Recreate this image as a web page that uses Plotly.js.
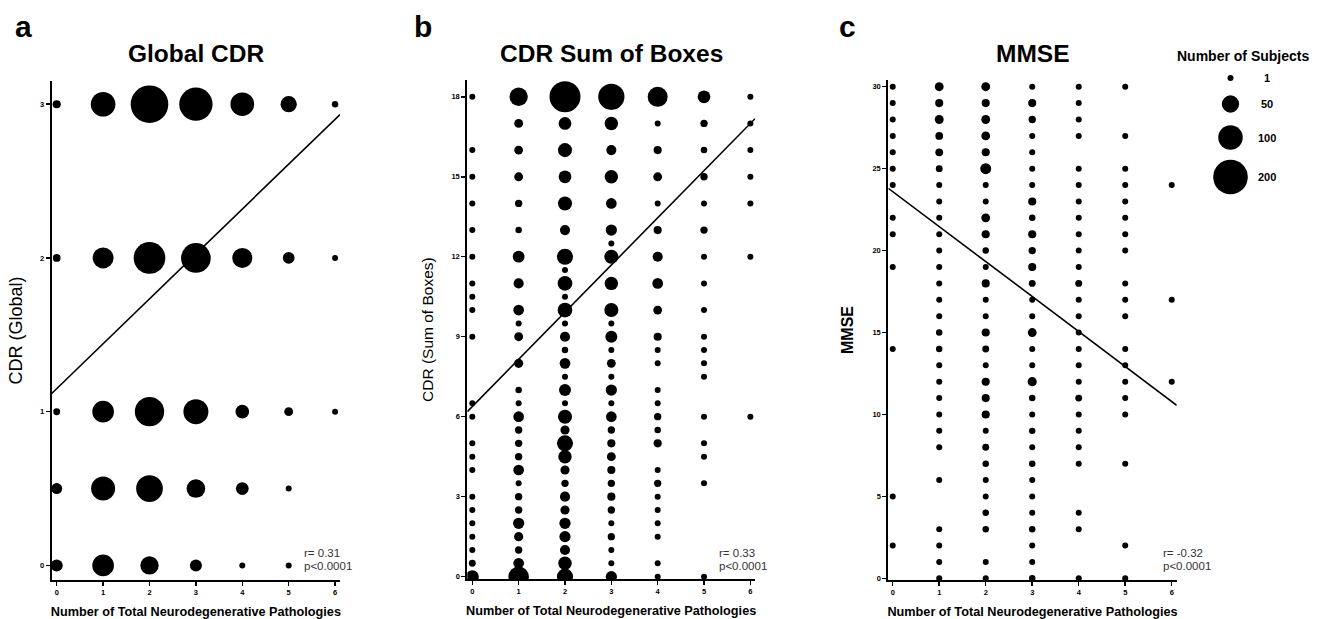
<!DOCTYPE html>
<html><head><meta charset="utf-8">
<script src="https://cdn.plot.ly/plotly-3.0.1.min.js"></script>
<style>html,body{margin:0;padding:0;background:#fff}</style>
</head><body><div id="chart" style="width:1320px;height:619px"></div>
<script>
// ---------------- DATA ----------------
const pathologies = [0, 1, 2, 3, 4, 5, 6];

// Panel a: Global CDR. Rows = CDR levels, columns = number of pathologies 0..6 (number of subjects)
const globalCdrLevels = [0, 0.5, 1, 2, 3];
const globalCdrCounts = [
  [24, 78, 56, 24, 3, 4, 0],
  [20, 96, 119, 58, 27, 5, 0],
  [8, 78, 143, 104, 31, 13, 2],
  [10, 73, 167, 147, 67, 23, 4],
  [11, 101, 236, 185, 93, 44, 7]
];

// Panel b: CDR Sum of Boxes. One array per pathology count: [score, subjects]
const sobCol0 = [[18,4],[16,4],[15,4],[14,2],[13,2],[12,4],[11,3],[10.5,2],[10,2],[9,3],[6.5,2],[6,2],[5,3],[4.5,4],[4,3],[3,3],[2.5,4],[2,2],[1.5,3],[1,3],[0.5,8],[0,28]];
const sobCol1 = [[18,56],[17,13],[16,13],[15,13],[14,9],[13,7],[12,23],[11,17],[10,19],[9.5,3],[9,13],[8,14],[7,7],[6.5,4],[6,19],[5.5,9],[5,9],[4.5,9],[4,19],[3.5,6],[3,9],[2.5,9],[2,21],[1.5,14],[1,9],[0.5,19],[0,70]];
const sobCol2 = [[18,160],[17,27],[16,33],[15,27],[14,33],[13,17],[12,43],[11.5,2],[11,36],[10.5,4],[10,36],[9.5,4],[9,17],[8.5,7],[8,19],[7.5,6],[7,24],[6.5,5],[6,33],[5.5,14],[5,43],[4.5,30],[4,14],[3.5,9],[3,17],[2.5,14],[2,21],[1.5,21],[1,17],[0.5,30],[0,43]];
const sobCol3 = [[18,115],[17,30],[16,17],[15,30],[14,19],[13,21],[12.5,2],[12,33],[11,30],[10,33],[9.5,2],[9,24],[8.5,6],[8,13],[7.5,6],[7,21],[6.5,4],[6,19],[5.5,9],[5,11],[4.5,13],[4,11],[3.5,9],[3,11],[2.5,9],[2,6],[1.5,9],[1,6],[0.5,5],[0,21]];
const sobCol4 = [[18,67],[17,4],[16,11],[15,13],[14,5],[13,11],[12,17],[11,19],[10,13],[9,11],[8.5,3],[8,3],[7,3],[6.5,2],[6,9],[5.5,7],[5,11],[4,2],[3.5,9],[3,3],[2.5,3],[2,2],[1.5,3],[0.5,6],[0,3]];
const sobCol5 = [[18,27],[17,9],[16,7],[15,9],[14,3],[13,9],[12,2],[11,5],[10,4],[9,2],[8.5,2],[8,6],[7.5,2],[6,3],[5,3],[4.5,3],[3.5,3],[0,3]];
const sobCol6 = [[18,4],[17,1],[16,1],[15,1],[14,1],[12,2],[6,2]];

// Panel c: MMSE. One array per pathology count: [score, subjects]
const mmseCol0 = [[30,4],[29,4],[28,4],[27,4],[26,4],[25,1],[24,2],[22,1],[21,1],[19,1],[14,1],[5,1],[2,1]];
const mmseCol1 = [[30,13],[29,11],[28,13],[27,10],[26,10],[25,8],[24,4],[23,4],[22,2],[21,3],[20,4],[19,4],[18,5],[17,1],[16,1],[15,7],[14,7],[13,4],[12,4],[11,5],[10,1],[9,6],[8,1],[6,3],[3,1],[2,4],[1,3],[0,2]];
const mmseCol2 = [[30,13],[29,11],[28,13],[27,13],[26,11],[25,20],[24,6],[23,6],[22,13],[21,11],[20,7],[19,6],[18,11],[17,6],[16,6],[15,11],[14,8],[13,6],[12,11],[11,11],[10,11],[9,6],[8,8],[7,7],[6,6],[5,4],[4,7],[3,7],[1,1],[0,2]];
const mmseCol3 = [[30,4],[29,11],[28,9],[27,4],[26,3],[25,4],[24,3],[23,11],[22,7],[21,11],[20,9],[19,11],[18,8],[17,6],[16,4],[15,13],[14,6],[13,6],[12,14],[11,7],[10,4],[9,7],[8,1],[7,7],[6,4],[5,5],[4,1],[3,7],[2,3],[1,4],[0,7]];
const mmseCol4 = [[30,4],[29,1],[28,3],[27,1],[25,3],[24,4],[23,5],[22,4],[21,4],[20,3],[19,4],[18,8],[17,5],[16,3],[15,1],[14,3],[13,4],[12,3],[11,8],[10,4],[9,4],[8,1],[7,5],[4,3],[3,3],[0,2]];
const mmseCol5 = [[30,3],[27,1],[25,1],[24,1],[23,1],[22,1],[21,1],[20,3],[18,1],[17,1],[16,5],[14,3],[13,3],[12,1],[11,3],[10,1],[7,1],[2,5],[0,1]];
const mmseCol6 = [[24,1],[17,1],[12,2]];

// Regression fits (a, b, c)
const fitIntercept = [1.15, 6.38, 23.6];
const fitSlope = [0.292, 1.77, -2.135];
const statR = ['r= 0.31', 'r= 0.33', 'r= -0.32'];
const statP = ['p<0.0001', 'p<0.0001', 'p<0.0001'];

// Text
const panelLetters = ['a', 'b', 'c'];
const panelTitles = ['Global CDR', 'CDR Sum of Boxes', 'MMSE'];
const yTitles = ['CDR (Global)', 'CDR (Sum of Boxes)', 'MMSE'];
const xTitle = 'Number of Total Neurodegenerative Pathologies';
const yTickVals = [[0, 1, 2, 3], [0, 3, 6, 9, 12, 15, 18], [0, 5, 10, 15, 20, 25, 30]];
const legendTitle = 'Number of Subjects';
const legendCounts = [1, 50, 100, 200];

// ---------------- LAYOUT CONFIG ----------------
const W = 1320, H = 619;
const FONT = 'Liberation Sans, Arial, Helvetica, sans-serif';
const SIZEREF = 1 / 3;
const panels = [
  { xpx: [51.7, 340], ypx: [81, 580], xr: [-0.108, 6.106], yr: [-0.095, 3.151], ytf: { size: 18, weight: 'normal' }, ystand: 13 },
  { xpx: [467.3, 755], ypx: [80, 579.3], xr: [-0.108, 6.10], yr: [-0.1, 18.63], ytf: { size: 15.5, weight: 'normal' }, ystand: 14 },
  { xpx: [888.3, 1176.7], ypx: [80, 580], xr: [-0.095, 6.107], yr: [-0.1, 30.41], ytf: { size: 16, weight: 'bold' }, ystand: 15 }
];
const legendPos = { x: 1230.5, ys: [78, 104, 137.5, 177], labelX: 1267, titleX: 1243, titleY: 56 };

const px2x = p => p / W;
const px2y = p => 1 - p / H;

// ---------------- BUILD ----------------
const bubbleColsB = [sobCol0, sobCol1, sobCol2, sobCol3, sobCol4, sobCol5, sobCol6];
const bubbleColsC = [mmseCol0, mmseCol1, mmseCol2, mmseCol3, mmseCol4, mmseCol5, mmseCol6];

function bubbleTrace(xs, ys, ns, k) {
  const s = k === 0 ? '' : String(k + 1);
  return {
    type: 'scatter', mode: 'markers', x: xs, y: ys, xaxis: 'x' + s, yaxis: 'y' + s,
    marker: { color: '#000', opacity: 1, size: ns, sizemode: 'area', sizeref: SIZEREF, sizemin: 3, line: { width: 0 } },
    hoverinfo: 'skip', showlegend: false
  };
}

const traces = [];
// panel a
{
  const xs = [], ys = [], ns = [];
  globalCdrLevels.forEach((lv, i) => {
    pathologies.forEach((p, j) => {
      const n = globalCdrCounts[i][j];
      if (n > 0) { xs.push(p); ys.push(lv); ns.push(n); }
    });
  });
  traces.push(bubbleTrace(xs, ys, ns, 0));
}
// panels b, c
[bubbleColsB, bubbleColsC].forEach((cols, idx) => {
  const xs = [], ys = [], ns = [];
  cols.forEach((col, j) => col.forEach(([v, n]) => { xs.push(pathologies[j]); ys.push(v); ns.push(n); }));
  traces.push(bubbleTrace(xs, ys, ns, idx + 1));
});
// regression lines
panels.forEach((pn, k) => {
  const s = k === 0 ? '' : String(k + 1);
  const xs = pn.xr.slice();
  traces.push({
    type: 'scatter', mode: 'lines', x: xs, y: xs.map(x => fitIntercept[k] + fitSlope[k] * x),
    xaxis: 'x' + s, yaxis: 'y' + s, line: { color: '#000', width: 1.6 },
    hoverinfo: 'skip', showlegend: false
  });
});
// size legend (drawn on a hidden pixel-space axis)
traces.push({
  type: 'scatter', mode: 'markers', x: legendCounts.map(() => legendPos.x), y: legendPos.ys,
  xaxis: 'x4', yaxis: 'y4',
  marker: { color: '#000', opacity: 1, size: legendCounts, sizemode: 'area', sizeref: SIZEREF, sizemin: 3, line: { width: 0 } },
  hoverinfo: 'skip', showlegend: false, cliponaxis: false
});

const layout = {
  width: W, height: H, margin: { l: 0, r: 0, t: 0, b: 0 },
  paper_bgcolor: '#fff', plot_bgcolor: 'rgba(0,0,0,0)',
  font: { family: FONT, color: '#000' },
  showlegend: false, annotations: [],
  xaxis4: { domain: [0, 1], range: [0, W], visible: false, fixedrange: true, anchor: 'y4' },
  yaxis4: { domain: [0, 1], range: [H, 0], visible: false, fixedrange: true, anchor: 'x4' }
};

panels.forEach((pn, k) => {
  const s = k === 0 ? '' : String(k + 1);
  layout['xaxis' + s] = {
    domain: [px2x(pn.xpx[0]), px2x(pn.xpx[1])], range: pn.xr, anchor: 'y' + s,
    showline: true, linewidth: 2, linecolor: '#000', mirror: false,
    ticks: 'outside', ticklen: 4, tickwidth: 1.5, tickcolor: '#000',
    tickmode: 'array', tickvals: pathologies,
    tickfont: { family: FONT, size: 7.5, weight: 'bold', color: '#000' },
    showgrid: false, zeroline: false, fixedrange: true,
    title: { text: xTitle, font: { family: FONT, size: 12.7, weight: 'bold', color: '#000' }, standoff: 11 }
  };
  layout['yaxis' + s] = {
    domain: [px2y(pn.ypx[1]), px2y(pn.ypx[0])], range: pn.yr, anchor: 'x' + s,
    showline: true, linewidth: 2, linecolor: '#000',
    ticks: 'outside', ticklen: 4, tickwidth: 1.5, tickcolor: '#000',
    tickmode: 'array', tickvals: yTickVals[k],
    tickfont: { family: FONT, size: 7.5, weight: 'bold', color: '#000' },
    showgrid: false, zeroline: false, fixedrange: true,
    title: { text: yTitles[k], font: Object.assign({ family: FONT, color: '#000' }, pn.ytf), standoff: pn.ystand }
  };
  const cx = (pn.xpx[0] + pn.xpx[1]) / 2;
  layout.annotations.push(
    { text: panelTitles[k], xref: 'paper', yref: 'paper', x: px2x(cx), y: px2y(53), xanchor: 'center', yanchor: 'middle',
      showarrow: false, font: { family: FONT, size: 24.5, weight: 'bold', color: '#000' } },
    { text: panelLetters[k], xref: 'paper', yref: 'paper', x: px2x([23, 423, 847.5][k]), y: px2y(27), xanchor: 'center', yanchor: 'middle',
      showarrow: false, font: { family: FONT, size: 30, weight: 'bold', color: '#000' } },
    { text: statR[k], xref: 'paper', yref: 'paper', x: px2x([301.7, 716.7, 1160.7][k]), y: px2y(552.5), xanchor: 'left', yanchor: 'middle',
      showarrow: false, font: { family: FONT, size: 11.5, color: '#333' } },
    { text: statP[k], xref: 'paper', yref: 'paper', x: px2x([301.7, 716.7, 1160.7][k]), y: px2y(565.7), xanchor: 'left', yanchor: 'middle',
      showarrow: false, font: { family: FONT, size: 11.5, color: '#333' } }
  );
});

layout.annotations.push({ text: legendTitle, xref: 'x4', yref: 'y4', x: legendPos.titleX, y: legendPos.titleY,
  xanchor: 'center', yanchor: 'middle', showarrow: false, font: { family: FONT, size: 14, weight: 'bold', color: '#000' } });
legendCounts.forEach((c, i) => layout.annotations.push({
  text: String(c), xref: 'x4', yref: 'y4', x: legendPos.labelX, y: legendPos.ys[i], xanchor: 'center', yanchor: 'middle',
  showarrow: false, font: { family: FONT, size: 11, weight: 'bold', color: '#000' }
}));

Plotly.newPlot('chart', traces, layout, { staticPlot: true, displayModeBar: false });
</script></body></html>
